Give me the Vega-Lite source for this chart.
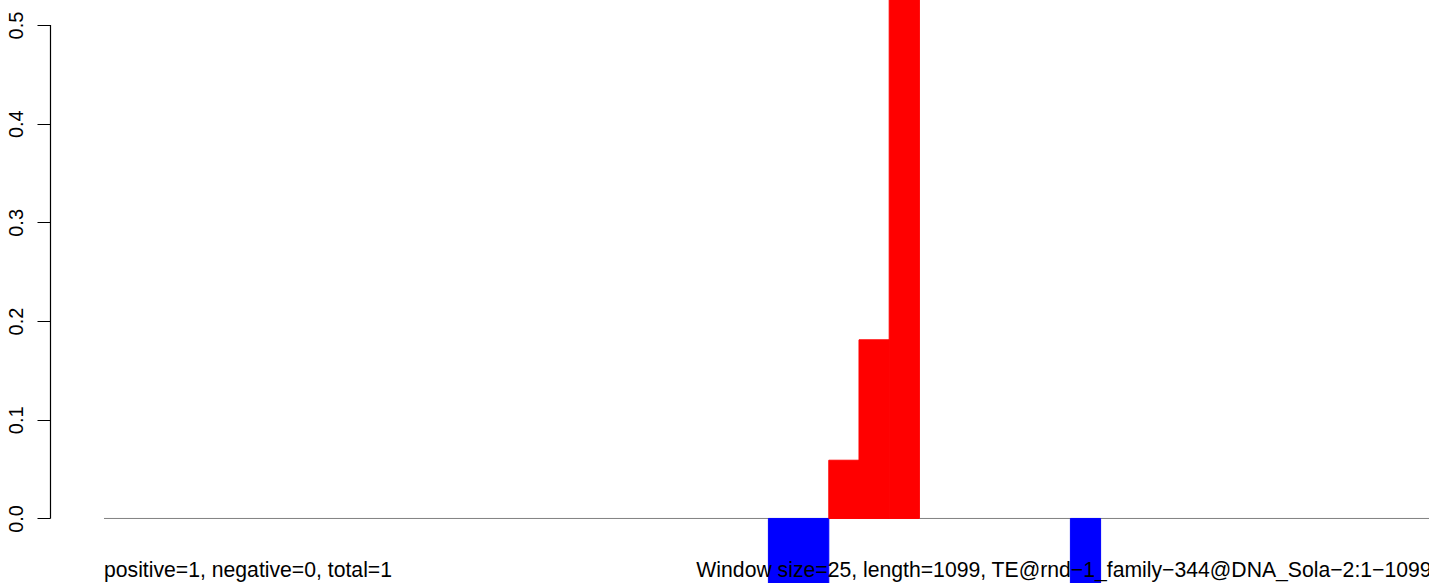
{
  "$schema": "https://vega.github.io/schema/vega-lite/v6.json",
  "width": 1379,
  "height": 583,
  "autosize": {"type": "none"},
  "padding": {"left": 50, "top": 0, "right": 0, "bottom": 0},
  "background": "white",
  "config": {"view": {"stroke": null}, "font": "Liberation Sans"},
  "datasets": {
    "windows": [
      {"start": 550, "end": 575, "value": -0.2, "sign": "negative"},
      {"start": 575, "end": 600, "value": -0.2, "sign": "negative"},
      {"start": 600, "end": 625, "value": 0.059, "sign": "positive"},
      {"start": 625, "end": 650, "value": 0.181, "sign": "positive"},
      {"start": 650, "end": 675, "value": 0.8, "sign": "positive"},
      {"start": 800, "end": 825, "value": -0.2, "sign": "negative"}
    ],
    "baseline": [{"from": 0, "to": 1099, "level": 0}],
    "notes": [
      {"note": "positive=1, negative=0, total=1", "pos": 0, "side": "left"},
      {"note": "Window size=25, length=1099, TE@rnd−1_family−344@DNA_Sola−2:1−1099", "pos": 1099, "side": "right"}
    ]
  },
  "layer": [
    {
      "data": {"name": "baseline"},
      "mark": {"type": "rule", "color": "#808080", "strokeWidth": 1, "clip": true},
      "encoding": {
        "x": {"field": "from", "type": "quantitative", "scale": {"domain": [-44.7, 1096.85], "nice": false, "zero": false}, "axis": null},
        "x2": {"field": "to"},
        "y": {
          "field": "level",
          "type": "quantitative",
          "scale": {"domain": [-0.06539, 0.52531], "nice": false, "zero": false},
          "axis": {
            "values": [0, 0.1, 0.2, 0.3, 0.4, 0.5],
            "format": ".1f",
            "title": null,
            "domain": false,
            "grid": false,
            "ticks": true,
            "tickColor": "black",
            "tickWidth": 1,
            "tickSize": 13,
            "labelAngle": -90,
            "labelAlign": "center",
            "labelBaseline": "bottom",
            "labelPadding": 11,
            "labelFontSize": 20,
            "labelColor": "black",
            "labelFont": "Liberation Sans",
            "labelOverlap": false,
            "labelFlush": false
          }
        }
      }
    },
    {
      "data": {"name": "windows"},
      "mark": {"type": "rect", "clip": true, "strokeWidth": 1},
      "encoding": {
        "x": {"field": "start", "type": "quantitative"},
        "x2": {"field": "end"},
        "y": {"field": "value", "type": "quantitative", "title": null},
        "y2": {"datum": 0},
        "color": {"field": "sign", "type": "nominal", "scale": {"domain": ["positive", "negative"], "range": ["#FF0000", "#0000FF"]}, "legend": null},
        "stroke": {"field": "sign", "type": "nominal", "scale": {"domain": ["positive", "negative"], "range": ["#FF0000", "#0000FF"]}, "legend": null}
      }
    },
    {
      "data": {"values": [{"a": 0}]},
      "mark": {"type": "rule", "color": "black", "strokeWidth": 1.2},
      "encoding": {
        "x": {"datum": -44.29, "type": "quantitative"},
        "y": {"datum": 0, "type": "quantitative", "title": null},
        "y2": {"datum": 0.5}
      }
    },
    {
      "data": {"name": "notes"},
      "transform": [{"filter": "datum.side == 'left'"}],
      "mark": {"type": "text", "align": "left", "baseline": "alphabetic", "fontSize": 21.2, "color": "black", "font": "Liberation Sans"},
      "encoding": {
        "x": {"field": "pos", "type": "quantitative"},
        "y": {"datum": -0.0598, "type": "quantitative", "title": null},
        "text": {"field": "note"}
      }
    },
    {
      "data": {"name": "notes"},
      "transform": [{"filter": "datum.side == 'right'"}],
      "mark": {"type": "text", "align": "right", "baseline": "alphabetic", "fontSize": 21.2, "color": "black", "font": "Liberation Sans", "clip": true},
      "encoding": {
        "x": {"field": "pos", "type": "quantitative"},
        "y": {"datum": -0.0598, "type": "quantitative", "title": null},
        "text": {"field": "note"}
      }
    }
  ]
}
